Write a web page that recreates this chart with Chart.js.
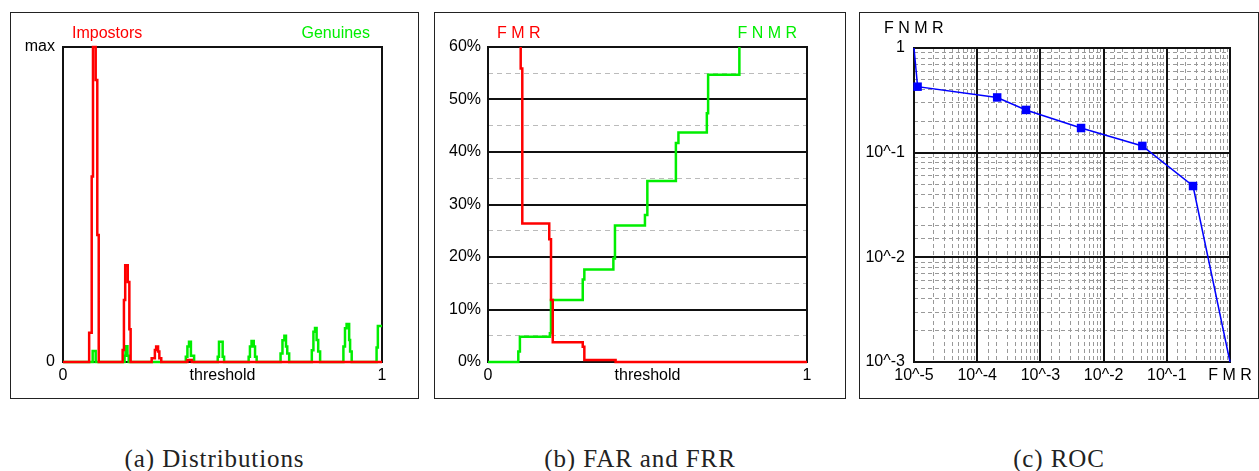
<!DOCTYPE html>
<html>
<head>
<meta charset="utf-8">
<script src="https://cdn.jsdelivr.net/npm/chart.js@4.4.0/dist/chart.umd.min.js"></script>
<style>
  body { margin: 0; background: #fff; }
  #page { position: relative; width: 1259px; height: 471px; overflow: hidden; background: #fff; }
  canvas { position: absolute; }
  .box { position: absolute; border: 1px solid #222; box-sizing: border-box; }
  .lbl { position: absolute; font: 16px "Liberation Sans", Arial, sans-serif; line-height: 16px; white-space: nowrap; }
  .cap { position: absolute; top: 446px; font-family: "Liberation Serif", "DejaVu Serif", serif; font-size: 25px;
         line-height: 25px; letter-spacing: 0.9px; text-align: center; color: #222; }
</style>
</head>
<body>
<div id="page">
  <div class="box" style="left:10px;top:12px;width:409px;height:387px"></div>
  <div class="box" style="left:434px;top:12px;width:412px;height:387px"></div>
  <div class="box" style="left:859px;top:12px;width:400px;height:387px"></div>

  <canvas id="distCanvas" width="408" height="386" style="left:10px;top:12px"></canvas>
  <canvas id="rateCanvas" width="411" height="386" style="left:434px;top:12px"></canvas>
  <canvas id="rocCanvas" width="399" height="386" style="left:859px;top:12px"></canvas>

  <div class="lbl" style="left:72px;top:25px;color:#ff0000">Impostors</div>
  <div class="lbl" style="left:270px;top:25px;width:100px;text-align:right;color:#00ee00">Genuines</div>
  <div class="lbl" style="left:497px;top:25px;color:#ff0000">F M R</div>
  <div class="lbl" style="left:697px;top:25px;width:100px;text-align:right;color:#00ee00">F N M R</div>
  <div class="lbl" style="left:884px;top:20px;color:#000">F N M R</div>

  <div class="cap" style="left:10px;width:409px">(a) Distributions</div>
  <div class="cap" style="left:434px;width:412px">(b) FAR and FRR</div>
  <div class="cap" style="left:859px;width:400px">(c) ROC</div>
</div>

<script>
// (a) score histograms, x = threshold, y = fraction of max (bin start, value)
const impX = [0, 0.082, 0.090, 0.094, 0.1025, 0.1075, 0.112, 0.187, 0.191, 0.195, 0.203, 0.208, 0.212,
              0.278, 0.288, 0.292, 0.298, 0.302, 0.308, 0.390, 0.404, 1];
const impY = [0, 0.093, 0.589, 1.0, 0.895, 0.403, 0, 0.038, 0.197, 0.307, 0.254, 0.104, 0,
              0.012, 0.038, 0.049, 0.033, 0.012, 0, 0.006, 0, 0];
const genX = [0, 0.093, 0.1025, 0.193, 0.196, 0.202, 0.206,
              0.385, 0.390, 0.395, 0.401, 0.411, 0.485, 0.489, 0.5005, 0.505,
              0.582, 0.586, 0.591, 0.598, 0.602, 0.607, 0.682, 0.688, 0.694, 0.699, 0.703, 0.709,
              0.780, 0.785, 0.790, 0.795, 0.800, 0.806, 0.879, 0.884, 0.889, 0.897, 0.900, 0.905,
              0.983, 0.987, 1];
const genY = [0, 0.035, 0, 0.02, 0.05, 0.02, 0,
              0.017, 0.049, 0.064, 0.02, 0, 0.017, 0.064, 0.017, 0,
              0.017, 0.049, 0.067, 0.049, 0.017, 0, 0.027, 0.069, 0.083, 0.049, 0.027, 0,
              0.037, 0.096, 0.108, 0.070, 0.033, 0, 0.049, 0.107, 0.121, 0.070, 0.033, 0,
              0.046, 0.114, 0.114];
const distXTicks = [0, 0.5, 1];
const distXLabels = ['0', 'threshold', '1'];
const distYTicks = [0, 1];
const distYLabels = ['0', 'max'];

// (b) error rates in percent
const fmrX = [0.1025, 0.1025, 0.1075, 0.1075, 0.192, 0.192, 0.1975, 0.1975, 0.203, 0.203,
              0.297, 0.297, 0.302, 0.302, 0.40, 0.40, 1];
const fmrY = [60, 55.9, 55.9, 26.4, 26.4, 23.4, 23.4, 11.8, 11.8, 3.75,
              3.75, 2.9, 2.9, 0.4, 0.4, 0, 0];
const fnmrX = [0, 0.095, 0.095, 0.1, 0.1, 0.194, 0.194, 0.1975, 0.1975, 0.297, 0.297, 0.302, 0.302,
               0.393, 0.393, 0.398, 0.398, 0.492, 0.492, 0.4995, 0.4995, 0.589, 0.589, 0.597, 0.597,
               0.686, 0.686, 0.69, 0.69, 0.788, 0.788];
const fnmrY = [0, 0, 2, 2, 4.8, 4.8, 5.5, 5.5, 11.8, 11.8, 15.7, 15.7, 17.6,
               17.6, 19.7, 19.7, 26, 26, 28, 28, 34.5, 34.5, 41.7, 41.7, 43.7,
               43.7, 47.4, 47.4, 54.7, 54.7, 60];
const rateXTicks = [0, 0.5, 1];
const rateXLabels = ['0', 'threshold', '1'];

// (c) ROC, FMR vs FNMR (log-log)
const rocX = [1e-5, 1.14e-5, 2.07e-4, 5.9e-4, 4.4e-3, 0.041, 0.26, 1];
const rocY = [1, 0.427, 0.337, 0.256, 0.172, 0.116, 0.048, 0.001];
const rocXTicks = [1e-5, 1e-4, 1e-3, 1e-2, 1e-1, 1];
const rocXLabels = ['10^-5', '10^-4', '10^-3', '10^-2', '10^-1', 'F M R'];
const rocYTicks = [1e-3, 1e-2, 1e-1, 1];
const rocYLabels = ['10^-3', '10^-2', '10^-1', '1'];

const RED = '#ff0000', GREEN = '#00ee00', BLUE = '#0000ff', INK = '#111';

Chart.defaults.font.family = '"Liberation Sans", Arial, sans-serif';
Chart.defaults.font.size = 16;
Chart.defaults.color = '#000';

const pts = (xs, ys) => xs.map((x, i) => ({ x, y: ys[i] }));
const fixTicks = vals => s => { s.ticks = vals.map(v => ({ value: v })); };
const notDecade = v => Math.abs(Math.log10(v) - Math.round(Math.log10(v))) > 1e-6;

// black box round the plot area, under the data
const plotFrame = {
  id: 'plotFrame',
  beforeDatasetsDraw(chart) {
    const a = chart.chartArea, ctx = chart.ctx;
    ctx.save();
    ctx.strokeStyle = INK;
    ctx.lineWidth = 2;
    ctx.strokeRect(a.left, a.top, a.right - a.left, a.bottom - a.top);
    ctx.restore();
  }
};

const baseOpts = (pad) => ({
  responsive: false,
  animation: false,
  layout: { padding: pad },
  plugins: { legend: { display: false }, tooltip: { enabled: false } }
});

function xAxis(vals, labels) {
  return {
    type: 'linear', min: 0, max: 1,
    grid: { display: false, drawTicks: false },
    border: { display: false },
    afterBuildTicks: fixTicks(vals),
    afterFit: s => { s.height = 36; },
    ticks: { padding: 4, autoSkip: false, maxRotation: 0, callback: (v, i) => labels[i] }
  };
}

// (a) Distributions
new Chart(document.getElementById('distCanvas'), {
  type: 'line',
  data: {
    datasets: [
      { data: pts(impX, impY), borderColor: RED, borderWidth: 2.5, stepped: 'before', pointRadius: 0, clip: 3 },
      { data: pts(genX, genY), borderColor: GREEN, borderWidth: 2.5, stepped: 'before', pointRadius: 0, clip: 3 }
    ]
  },
  options: Object.assign(baseOpts({ top: 35, right: 36, left: 0, bottom: 0 }), {
    scales: {
      x: xAxis(distXTicks, distXLabels),
      y: {
        min: 0, max: 1,
        grid: { display: false, drawTicks: false },
        border: { display: false },
        afterBuildTicks: fixTicks(distYTicks),
        afterFit: s => { s.width = 53; },
        ticks: { padding: 8, callback: (v, i) => distYLabels[i] }
      }
    }
  }),
  plugins: [plotFrame]
});

// (b) FAR and FRR
new Chart(document.getElementById('rateCanvas'), {
  type: 'line',
  data: {
    datasets: [
      { data: pts(fmrX, fmrY), borderColor: RED, borderWidth: 2.5, pointRadius: 0, clip: 3 },
      { data: pts(fnmrX, fnmrY), borderColor: GREEN, borderWidth: 2.5, pointRadius: 0, clip: 3 }
    ]
  },
  options: Object.assign(baseOpts({ top: 35, right: 38, left: 0, bottom: 0 }), {
    scales: {
      x: xAxis(rateXTicks, rateXLabels),
      yMinor: {
        position: 'left', min: 0, max: 60,
        grid: { color: '#bbb', lineWidth: 1, drawTicks: false },
        border: { display: false, dash: [5, 4] },
        ticks: { display: false, stepSize: 5 },
        afterBuildTicks: s => { s.ticks = s.ticks.filter(t => t.value % 10 !== 0); },
        afterFit: s => { s.width = 0; }
      },
      y: {
        position: 'left', min: 0, max: 60,
        grid: { color: INK, lineWidth: 2, drawTicks: false },
        border: { display: false },
        ticks: { padding: 7, stepSize: 10, callback: v => v + '%' },
        afterFit: s => { s.width = 54; }
      }
    }
  }),
  plugins: [plotFrame]
});

// (c) ROC
new Chart(document.getElementById('rocCanvas'), {
  type: 'line',
  data: {
    datasets: [{
      data: pts(rocX, rocY),
      borderColor: BLUE, borderWidth: 1.5,
      pointStyle: 'rect', pointBackgroundColor: BLUE, pointBorderWidth: 0,
      pointRadius: ctx => (ctx.dataIndex === 0 || ctx.dataIndex === rocX.length - 1) ? 0 : 6,
      clip: 4
    }]
  },
  options: Object.assign(baseOpts({ top: 36, right: 28, left: 0, bottom: 0 }), {
    scales: {
      xMinor: {
        type: 'logarithmic', position: 'bottom', min: 1e-5, max: 1,
        grid: { color: '#999', lineWidth: 1, drawTicks: false },
        border: { display: false, dash: [4, 3] },
        ticks: { display: false },
        afterBuildTicks: s => { s.ticks = s.ticks.filter(t => notDecade(t.value)); },
        afterFit: s => { s.height = 0; }
      },
      yMinor: {
        type: 'logarithmic', position: 'left', min: 1e-3, max: 1,
        grid: { color: '#999', lineWidth: 1, drawTicks: false },
        border: { display: false, dash: [4, 3] },
        ticks: { display: false },
        afterBuildTicks: s => { s.ticks = s.ticks.filter(t => notDecade(t.value)); },
        afterFit: s => { s.width = 0; }
      },
      x: {
        type: 'logarithmic', position: 'bottom', min: 1e-5, max: 1,
        grid: { color: INK, lineWidth: 2, drawTicks: false },
        border: { display: false },
        afterBuildTicks: fixTicks(rocXTicks),
        afterFit: s => { s.height = 36; },
        ticks: { padding: 4, autoSkip: false, maxRotation: 0, callback: (v, i) => rocXLabels[i] }
      },
      y: {
        type: 'logarithmic', position: 'left', min: 1e-3, max: 1,
        grid: { color: INK, lineWidth: 2, drawTicks: false },
        border: { display: false },
        afterBuildTicks: fixTicks(rocYTicks),
        afterFit: s => { s.width = 55; },
        ticks: { padding: 9, autoSkip: false, callback: (v, i) => rocYLabels[i] }
      }
    }
  }),
  plugins: [plotFrame]
});
</script>
</body>
</html>
